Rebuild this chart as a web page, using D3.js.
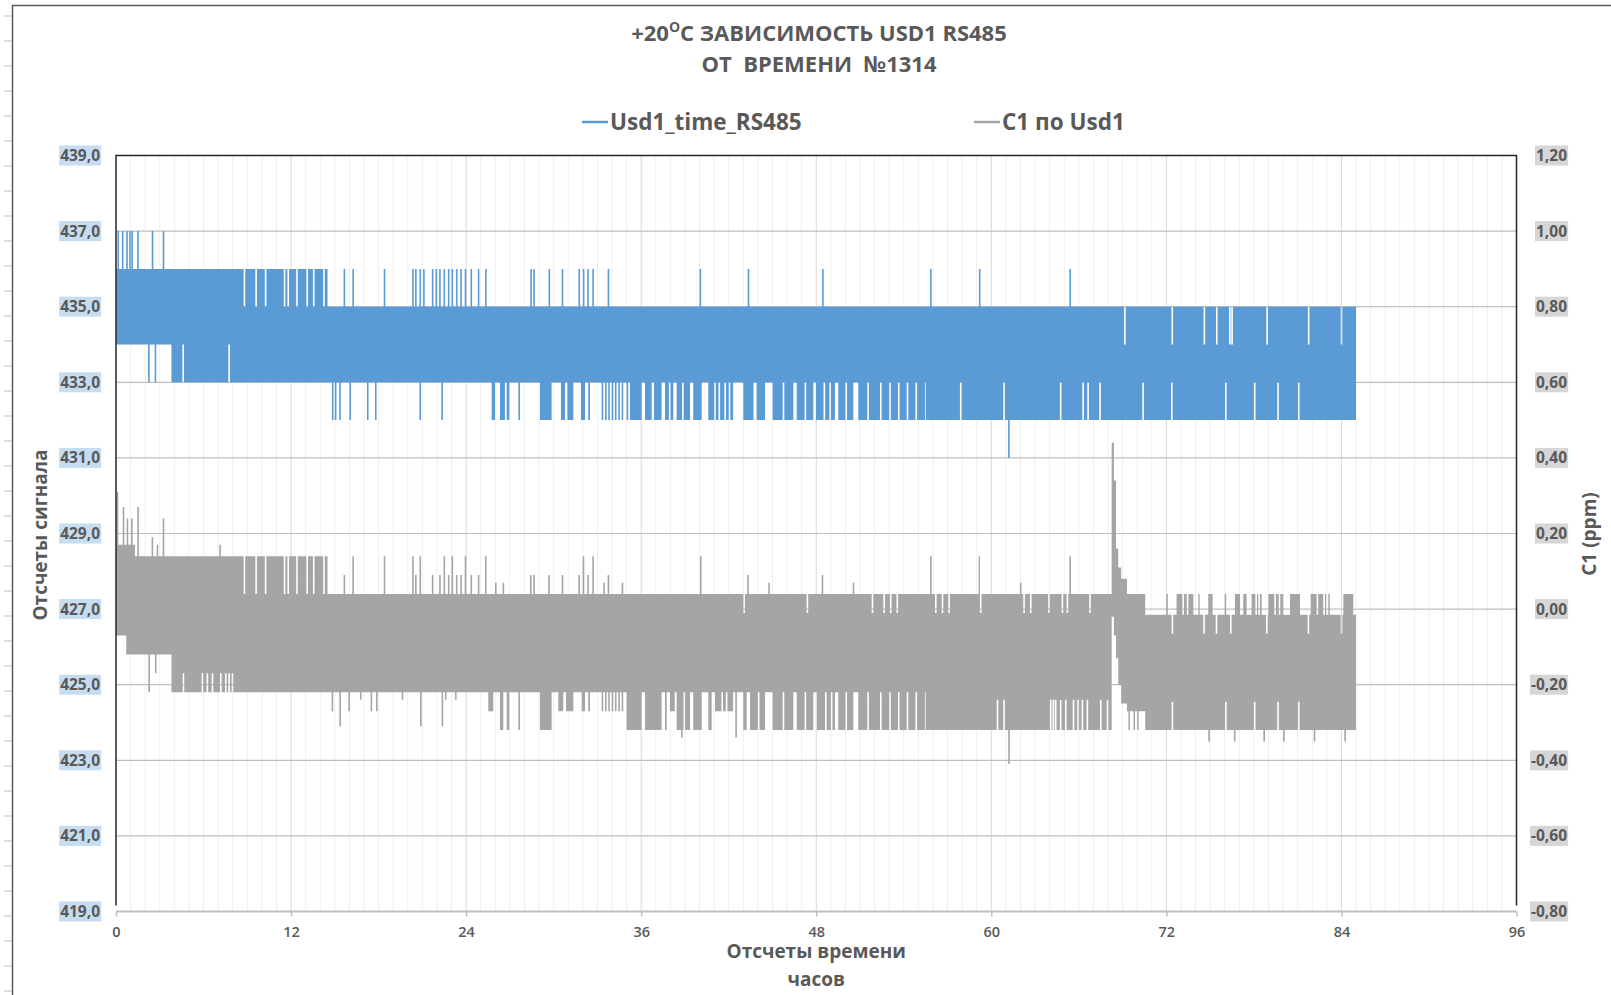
<!DOCTYPE html>
<html>
<head>
<meta charset="utf-8">
<script src="https://cdnjs.cloudflare.com/ajax/libs/d3/7.8.5/d3.min.js"></script>
<style>
  body { margin: 0; background: #fff; }
  svg { display: block; font-family: "Open Sans", "DejaVu Sans", sans-serif; }
</style>
</head>
<body>
<div id="vis"></div>
<script>
// frame + plot box
const FRAME_WIDTH = 1611
const FRAME_HEIGHT = 995
const PLOT = {left: 116, right: 1516.5, top: 155.5, bottom: 911.5}
const SPIKE_W = 0.11   // width of one sample in hours

// axes
const X_TICKS = [0, 12, 24, 36, 48, 60, 72, 84, 96]
const LEFT_TICKS = [419, 421, 423, 425, 427, 429, 431, 433, 435, 437, 439]
const RIGHT_TICKS = [-0.8, -0.6, -0.4, -0.2, 0, 0.2, 0.4, 0.6, 0.8, 1.0, 1.2]

// ---- Usd1_time_RS485 (counts) ----
// envelope of the dense signal: [from h, to h, min, max]
const usdBase = [[0, 3.8, 434, 436], [3.8, 14.6, 433, 436], [14.6, 55.5, 433, 435], [55.5, 85, 432, 435]]
// single samples above / below: [h, value]
const usdUp = [[0.1, 437], [0.4, 437], [0.7, 437], [0.9, 437], [1.05, 437], [1.45, 437], [2.45, 437], [3.2, 437],
  [15.6, 436], [16.2, 436], [18.35, 436], [20.3, 436], [20.5, 436], [20.8, 436], [21.05, 436], [21.65, 436],
  [21.9, 436], [22.15, 436], [22.45, 436], [22.75, 436], [23.0, 436], [23.3, 436], [23.6, 436], [23.9, 436],
  [24.3, 436], [24.8, 436], [25.3, 436], [28.4, 436], [28.6, 436], [29.65, 436], [30.55, 436], [31.7, 436],
  [32.0, 436], [32.3, 436], [32.65, 436], [33.7, 436], [40.0, 436], [43.3, 436], [48.4, 436], [55.8, 436],
  [59.15, 436], [65.35, 436]]
const usdDown = [[2.2, 433], [2.65, 433], [14.8, 432], [15.0, 432], [15.3, 432], [16.0, 432], [17.2, 432],
  [17.75, 432], [20.8, 432], [22.3, 432], [33.29, 432], [33.52, 432], [33.74, 432], [33.98, 432], [34.2, 432],
  [34.43, 432], [34.66, 432], [35.0, 432], [61.15, 431]]
// stretches where the lower edge reaches further: [from, to, value]
const usdLowRuns = [[25.75, 25.98, 432], [26.32, 26.66, 432], [26.78, 26.96, 432], [27.58, 27.69, 432],
  [29.06, 29.86, 432], [30.5, 30.78, 432], [30.94, 31.35, 432], [31.87, 32.15, 432], [32.37, 32.49, 432],
  [35.23, 36.03, 432], [36.26, 36.72, 432], [36.88, 37.4, 432], [37.63, 38.2, 432], [38.43, 39.35, 432],
  [39.57, 40.15, 432], [40.6, 42.3, 432], [43.0, 43.7, 432], [43.91, 44.49, 432], [45.01, 46.43, 432],
  [46.66, 47.8, 432], [47.98, 49.28, 432], [49.51, 50.54, 432], [50.88, 52.37, 432], [52.48, 55.45, 432]]
// samples that stop short of the edge: [h, value]
const usdTopGaps = [[8.75, 435], [9.55, 435], [10.2, 435], [11.5, 435], [11.75, 435], [12.35, 435], [13.05, 435],
  [13.5, 435], [14.2, 435], [14.5, 435], [69.1, 434], [72.35, 434], [74.55, 434], [75.4, 434], [76.3, 434],
  [76.45, 434], [78.85, 434], [81.7, 434], [83.95, 434]]
const usdLowGaps = [[4.55, 434], [7.7, 434], [37.9, 433], [38.8, 433], [41.0, 433], [41.3, 433], [41.7, 433],
  [42.0, 433], [45.7, 433], [47.2, 433], [48.5, 433], [48.9, 433], [50.0, 433], [51.5, 433], [53.0, 433],
  [53.6, 433], [54.2, 433], [54.8, 433], [57.85, 433], [60.82, 433], [64.7, 433], [66.24, 433], [66.58, 433],
  [67.4, 433], [70.35, 433], [72.32, 433], [76.02, 433], [78.0, 433], [79.6, 433], [81.02, 433]]

// ---- C1 по Usd1 (ppm) ----
const c1Base = [[0, 0.7, -0.07, 0.17], [0.7, 1.3, -0.12, 0.17], [1.3, 3.8, -0.12, 0.14], [3.8, 14.6, -0.22, 0.14],
  [14.6, 55.5, -0.22, 0.04], [55.5, 68.25, -0.32, 0.04], [68.25, 68.4, -0.02, 0.44], [68.4, 68.55, -0.07, 0.34],
  [68.55, 68.7, -0.13, 0.16], [68.7, 68.9, -0.2, 0.11], [68.9, 69.3, -0.25, 0.08], [69.3, 70.55, -0.27, 0.04],
  [70.55, 85, -0.32, -0.015]]
const c1Up = [[0.05, 0.31], [0.46, 0.27], [0.73, 0.24], [1.03, 0.24], [1.46, 0.27], [2.44, 0.19], [2.79, 0.17],
  [3.2, 0.24], [7.08, 0.17], [15.6, 0.09], [16.2, 0.14], [18.35, 0.14], [20.3, 0.14], [20.5, 0.09], [20.8, 0.14],
  [21.65, 0.09], [22.15, 0.09], [22.45, 0.14], [22.75, 0.09], [23.0, 0.14], [23.3, 0.09], [23.6, 0.09],
  [23.9, 0.14], [24.3, 0.09], [24.8, 0.09], [25.29, 0.14], [25.98, 0.07], [26.5, 0.07], [28.38, 0.09],
  [28.6, 0.09], [29.63, 0.09], [30.55, 0.09], [31.69, 0.09], [31.99, 0.14], [32.3, 0.09], [32.65, 0.14],
  [33.4, 0.07], [33.7, 0.09], [34.66, 0.07], [40.03, 0.14], [43.27, 0.09], [44.71, 0.07], [48.37, 0.09],
  [50.5, 0.07], [55.8, 0.14], [59.13, 0.14], [61.96, 0.07], [65.35, 0.14]]
const c1Down = [[2.22, -0.22], [2.67, -0.17], [14.78, -0.27], [15.31, -0.31], [15.93, -0.27], [16.72, -0.24],
  [17.45, -0.27], [17.82, -0.27], [19.58, -0.24], [20.84, -0.31], [22.32, -0.31], [22.55, -0.24], [23.24, -0.24],
  [25.64, -0.27], [33.29, -0.27], [33.52, -0.27], [33.74, -0.27], [33.98, -0.27], [34.2, -0.27], [34.43, -0.27],
  [34.66, -0.27], [38.73, -0.34], [42.45, -0.34], [61.16, -0.41], [74.87, -0.35], [76.63, -0.35], [78.65, -0.35],
  [80.0, -0.35], [82.1, -0.35], [84.2, -0.35]]
const c1LowRuns = [[25.52, 25.86, -0.27], [26.32, 26.55, -0.32], [26.78, 26.96, -0.32], [27.58, 27.69, -0.32],
  [29.06, 29.86, -0.32], [30.32, 30.66, -0.27], [30.85, 31.35, -0.27], [31.92, 32.15, -0.27], [32.37, 32.49, -0.27],
  [35.0, 36.03, -0.32], [36.26, 37.4, -0.32], [37.63, 37.75, -0.32], [37.97, 38.3, -0.27], [38.43, 39.35, -0.32],
  [39.57, 40.15, -0.32], [40.6, 40.83, -0.32], [41.06, 42.3, -0.27], [43.0, 43.23, -0.32], [43.46, 44.49, -0.32],
  [45.01, 46.43, -0.32], [46.66, 47.8, -0.32], [48.05, 49.28, -0.32], [49.51, 50.54, -0.32], [50.88, 52.37, -0.32],
  [52.48, 55.45, -0.32], [69.4, 69.5, -0.32], [69.75, 69.85, -0.32], [70.0, 70.1, -0.32]]
const c1TopRuns = [[72.0, 72.1, 0.04], [72.7, 73.85, 0.04], [74.19, 74.28, 0.04], [74.87, 75.17, 0.04],
  [76.0, 76.1, 0.04], [76.7, 77.05, 0.04], [77.27, 77.5, 0.04], [77.84, 78.53, 0.04], [78.99, 80.01, 0.04],
  [80.47, 81.16, 0.04], [81.89, 82.75, 0.04], [82.87, 82.95, 0.04], [83.1, 83.2, 0.04], [84.13, 84.81, 0.04]]
const c1TopGaps = [[8.75, 0.04], [9.55, 0.04], [10.2, 0.04], [11.5, 0.04], [11.75, 0.04], [12.35, 0.04],
  [13.05, 0.04], [13.5, 0.04], [14.2, 0.04], [14.5, 0.04], [43.0, -0.01], [47.34, -0.01], [51.8, -0.01],
  [52.6, -0.01], [53.05, -0.01], [53.5, -0.01], [56.14, -0.01], [56.6, -0.01], [57.05, -0.01], [59.22, -0.01],
  [62.19, -0.01], [62.65, -0.01], [63.9, -0.01], [64.82, -0.01], [65.16, -0.01], [66.71, -0.01],
  [72.36, -0.065], [73.1, -0.015], [73.4, -0.015], [74.53, -0.065], [75.38, -0.065], [76.36, -0.065],
  [78.1, -0.015], [78.3, -0.015], [78.83, -0.065], [79.4, -0.015], [79.7, -0.015], [81.68, -0.065],
  [82.3, -0.015], [83.95, -0.065]]
const c1LowGaps = [[4.57, -0.17], [5.87, -0.17], [6.21, -0.17], [6.56, -0.17], [7.13, -0.17], [7.47, -0.17],
  [7.7, -0.17], [7.93, -0.17], [38.9, -0.22], [41.5, -0.22], [41.8, -0.22], [44.0, -0.22], [45.7, -0.22],
  [47.2, -0.22], [48.6, -0.22], [49.0, -0.22], [50.0, -0.22], [51.5, -0.22], [53.0, -0.22], [53.6, -0.22],
  [54.2, -0.22], [54.8, -0.22], [60.37, -0.24], [60.82, -0.24], [64.02, -0.24], [64.2, -0.24], [64.36, -0.24],
  [64.7, -0.24], [65.05, -0.24], [65.58, -0.24], [65.89, -0.24], [66.19, -0.24], [66.53, -0.24], [67.45, -0.24],
  [67.91, -0.24], [72.36, -0.245], [76.02, -0.245], [78.0, -0.245], [79.6, -0.245], [81.02, -0.245]]


// scales
const x = d3.scaleLinear().domain([0, 96]).range([PLOT.left, PLOT.right])
const yL = d3.scaleLinear().domain([419, 439]).range([PLOT.bottom, PLOT.top])
const yR = d3.scaleLinear().domain([-0.8, 1.2]).range([PLOT.bottom, PLOT.top])

const fmtL = v => d3.format(".1f")(v).replace(".", ",").replace("−", "-")
const fmtR = v => d3.format(".2f")(v).replace(".", ",").replace("−", "-")

// turn envelope + events into a stepped list of {t, lo, hi}
function envelope(s) {
  const up = s.up || [], down = s.down || [], lowRuns = s.lowRuns || [], topRuns = s.topRuns || []
  const topGaps = s.topGaps || [], lowGaps = s.lowGaps || []
  let cuts = []
  s.base.forEach(d => cuts.push(d[0], d[1]))
  lowRuns.concat(topRuns).forEach(d => cuts.push(d[0], d[1]))
  up.concat(down, topGaps, lowGaps).forEach(d => cuts.push(d[0], d[0] + SPIKE_W))
  const end = d3.max(s.base, d => d[1])
  cuts = Array.from(new Set(cuts.map(c => +c.toFixed(4)))).filter(c => c <= end).sort((a, b) => a - b)
  const inside = (m, a, b) => m >= a && m < b
  const pts = []
  for (let i = 0; i < cuts.length - 1; i++) {
    const a = cuts[i], b = cuts[i + 1], m = (a + b) / 2
    const seg = s.base.find(d => inside(m, d[0], d[1]))
    if (!seg) continue
    let lo = seg[2], hi = seg[3]
    lowRuns.forEach(d => { if (inside(m, d[0], d[1])) lo = Math.min(lo, d[2]) })
    topRuns.forEach(d => { if (inside(m, d[0], d[1])) hi = Math.max(hi, d[2]) })
    up.forEach(d => { if (inside(m, d[0], d[0] + SPIKE_W)) hi = Math.max(hi, d[1]) })
    down.forEach(d => { if (inside(m, d[0], d[0] + SPIKE_W)) lo = Math.min(lo, d[1]) })
    topGaps.forEach(d => { if (inside(m, d[0], d[0] + SPIKE_W)) hi = Math.min(hi, d[1]) })
    lowGaps.forEach(d => { if (inside(m, d[0], d[0] + SPIKE_W)) lo = Math.max(lo, d[1]) })
    pts.push({t: a, lo: lo, hi: hi})
  }
  const last = pts[pts.length - 1]
  pts.push({t: end, lo: last.lo, hi: last.hi})
  return pts
}

const usdPts = envelope({base: usdBase, up: usdUp, down: usdDown, lowRuns: usdLowRuns,
  topGaps: usdTopGaps, lowGaps: usdLowGaps})
const c1Pts = envelope({base: c1Base, up: c1Up, down: c1Down, lowRuns: c1LowRuns, topRuns: c1TopRuns,
  topGaps: c1TopGaps, lowGaps: c1LowGaps})


const FRAME = d3.select('#vis')
  .append('svg')
  .attr('width', FRAME_WIDTH)
  .attr('height', FRAME_HEIGHT)

// sheet edge (screenshot border)
FRAME.append('line').attr('x1', 12).attr('x2', FRAME_WIDTH).attr('y1', 5.5).attr('y2', 5.5)
  .attr('stroke', '#595959').attr('stroke-width', 1.5)
FRAME.append('line').attr('x1', 12.5).attr('x2', 12.5).attr('y1', 5).attr('y2', FRAME_HEIGHT)
  .attr('stroke', '#595959').attr('stroke-width', 1.5)
FRAME.append('g').selectAll('line').data(d3.range(16, FRAME_HEIGHT, 25)).enter().append('line')
  .attr('x1', 4).attr('x2', 12).attr('y1', d => d).attr('y2', d => d)
  .attr('stroke', '#bfbfbf')

// vertical grid: every hour, stronger every 12 h
FRAME.append('g').selectAll('line').data(d3.range(1, 96)).enter().append('line')
  .attr('x1', d => x(d)).attr('x2', d => x(d))
  .attr('y1', PLOT.top).attr('y2', PLOT.bottom)
  .attr('stroke', d => d % 12 === 0 ? '#d9d9d9' : '#efefef')
  .attr('stroke-width', 1)

// horizontal grid
FRAME.append('g').selectAll('line').data(LEFT_TICKS.slice(1, -1)).enter().append('line')
  .attr('x1', PLOT.left).attr('x2', PLOT.right)
  .attr('y1', d => yL(d)).attr('y2', d => yL(d))
  .attr('stroke', '#bfbfbf').attr('stroke-width', 1.2)

// series
const usdArea = d3.area().curve(d3.curveStepAfter)
  .x(d => x(d.t)).y0(d => yL(d.lo)).y1(d => yL(d.hi))
const c1Area = d3.area().curve(d3.curveStepAfter)
  .x(d => x(d.t)).y0(d => yR(d.lo)).y1(d => yR(d.hi))

FRAME.append('path').datum(usdPts).attr('d', usdArea).attr('fill', '#5b9bd5')
FRAME.append('path').datum(c1Pts).attr('d', c1Area).attr('fill', '#a5a5a5')

// plot border: dark left/top/right, grey axis line at the bottom
FRAME.append('path')
  .attr('d', `M${PLOT.left},${PLOT.bottom - 6}V${PLOT.top}H${PLOT.right}V${PLOT.bottom - 6}`)
  .attr('fill', 'none').attr('stroke', '#262626').attr('stroke-width', 1.5)
FRAME.append('line').attr('x1', PLOT.left).attr('x2', PLOT.right)
  .attr('y1', PLOT.bottom).attr('y2', PLOT.bottom)
  .attr('stroke', '#bfbfbf').attr('stroke-width', 2)

// x axis
const xAxis = FRAME.append('g')
  .attr('transform', `translate(0,${PLOT.bottom})`)
  .call(d3.axisBottom(x).tickValues(X_TICKS).tickSize(5).tickPadding(10))
xAxis.select('.domain').remove()
xAxis.selectAll('.tick line').attr('stroke', '#bfbfbf').attr('stroke-width', 1.5)
xAxis.selectAll('.tick text')
  .attr('font-family', '"Open Sans", sans-serif').attr('font-size', '14.5px')
  .attr('font-weight', 600).attr('fill', '#595959')

// y axes, labels on highlighted boxes
function sideLabels(ticks, scale, fmt, xRight, boxFill) {
  const g = FRAME.append('g')
  ticks.forEach(v => {
    const t = g.append('text')
      .attr('x', xRight).attr('y', scale(v)).attr('dy', '0.36em')
      .attr('text-anchor', 'end')
      .attr('font-size', '15.5px').attr('font-weight', 700).attr('fill', '#595959')
      .text(fmt(v))
    const bb = t.node().getBBox()
    g.insert('rect', 'text')
      .attr('x', bb.x - 1).attr('y', scale(v) - 10)
      .attr('width', bb.width + 2).attr('height', 20)
      .attr('fill', boxFill)
  })
}
sideLabels(LEFT_TICKS, yL, fmtL, 100, '#c6dcf0')
sideLabels(RIGHT_TICKS, yR, fmtR, 1567, '#d6d6d6')

// axis titles
FRAME.append('text')
  .attr('transform', 'translate(47,535) rotate(-90)')
  .attr('text-anchor', 'middle')
  .attr('font-size', '19px').attr('font-weight', 700).attr('fill', '#595959')
  .text('Отсчеты сигнала')
FRAME.append('text')
  .attr('transform', 'translate(1596,534) rotate(-90)')
  .attr('text-anchor', 'middle')
  .attr('font-size', '19px').attr('font-weight', 700).attr('fill', '#595959')
  .text('C1 (ppm)')
FRAME.append('text')
  .attr('x', (PLOT.left + PLOT.right) / 2).attr('y', 958)
  .attr('text-anchor', 'middle')
  .attr('font-size', '19px').attr('font-weight', 700).attr('fill', '#595959')
  .text('Отсчеты времени')
FRAME.append('text')
  .attr('x', (PLOT.left + PLOT.right) / 2).attr('y', 986)
  .attr('text-anchor', 'middle')
  .attr('font-size', '19px').attr('font-weight', 700).attr('fill', '#595959')
  .text('часов')

// chart title
const title = FRAME.append('text')
  .attr('x', 819).attr('y', 41)
  .attr('text-anchor', 'middle')
  .attr('font-size', '22px').attr('font-weight', 700).attr('fill', '#595959')
title.append('tspan').text('+20')
title.append('tspan').attr('font-size', '14px').attr('dy', -9).text('O')
title.append('tspan').attr('dy', 9).text('C ЗАВИСИМОСТЬ USD1 RS485')
FRAME.append('text')
  .attr('x', 819).attr('y', 72)
  .attr('text-anchor', 'middle')
  .attr('font-size', '22px').attr('font-weight', 700).attr('fill', '#595959')
  .attr('xml:space', 'preserve')
  .text('ОТ  ВРЕМЕНИ  №1314')

// legend
const LEGEND = [
  {name: 'Usd1_time_RS485', color: '#5b9bd5', x: 582},
  {name: 'C1 по Usd1', color: '#a5a5a5', x: 974}
]
const lg = FRAME.append('g').selectAll('g').data(LEGEND).enter().append('g')
lg.append('line')
  .attr('x1', d => d.x).attr('x2', d => d.x + 26)
  .attr('y1', 122).attr('y2', 122)
  .attr('stroke', d => d.color).attr('stroke-width', 2.5)
lg.append('text')
  .attr('x', d => d.x + 28).attr('y', 130)
  .attr('font-size', '22.5px').attr('font-weight', 700).attr('fill', '#595959')
  .text(d => d.name)
</script>
</body>
</html>
